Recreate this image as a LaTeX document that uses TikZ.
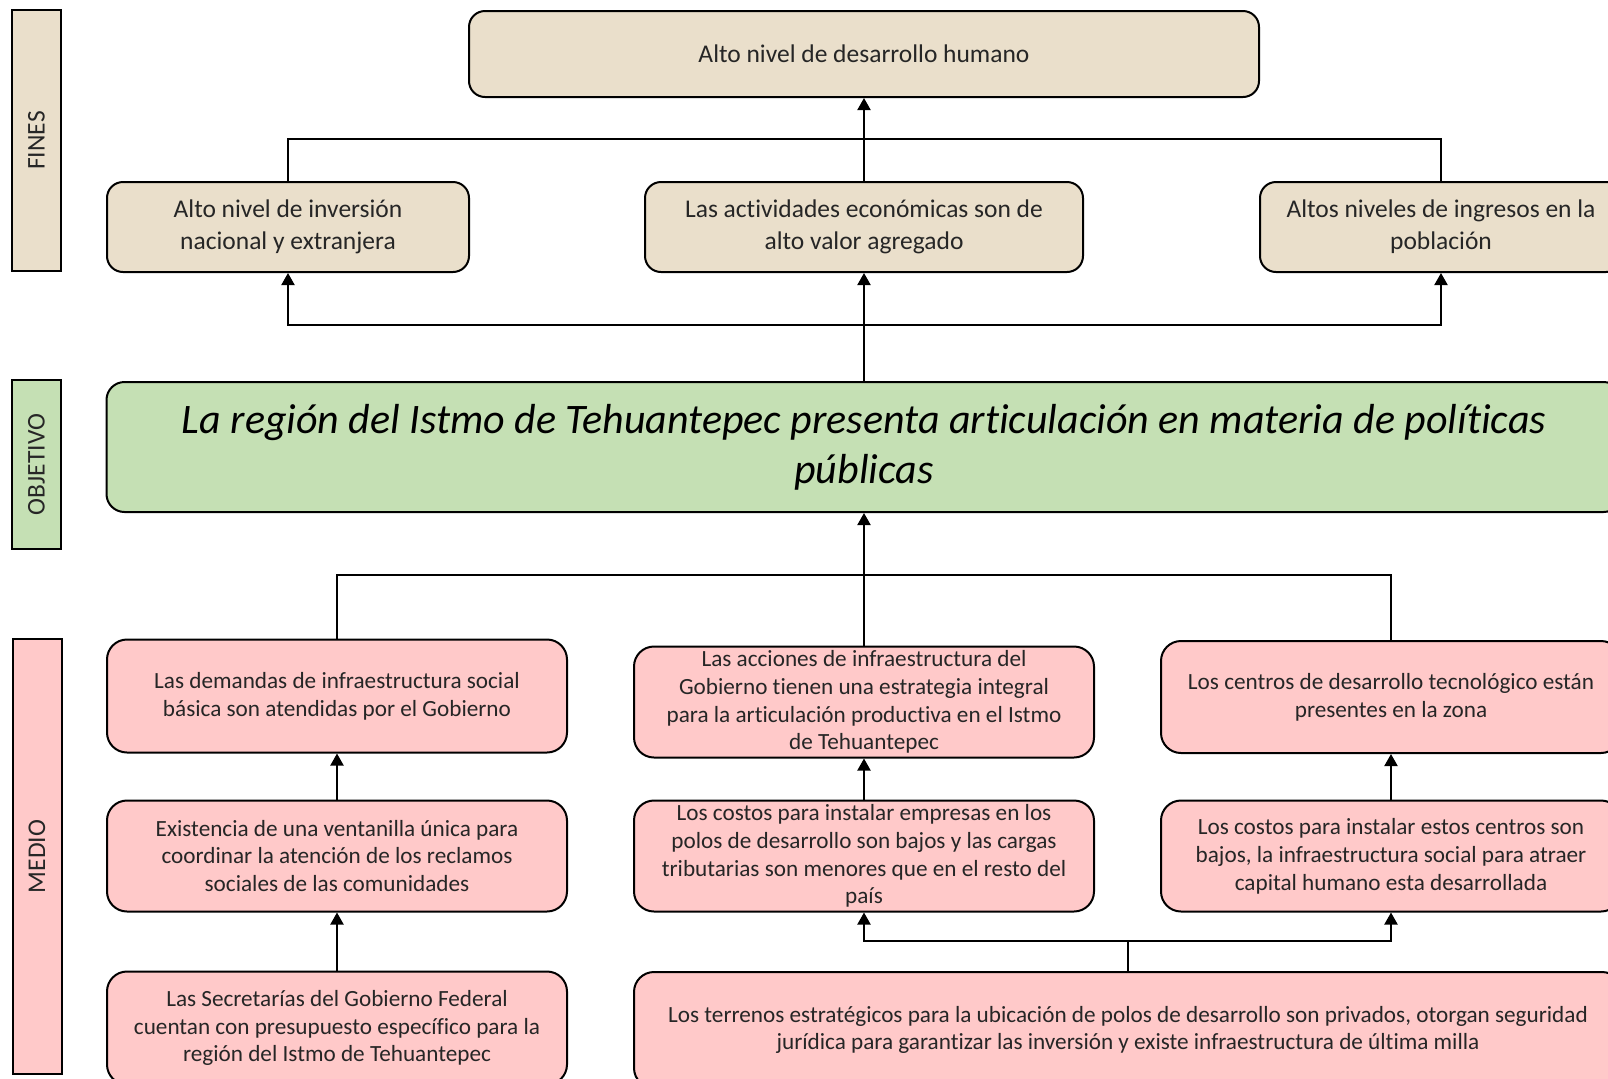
\documentclass[tikz,border=0pt]{standalone}
\usepackage{fontspec}
\setmainfont{Carlito}[Ligatures=NoCommon]
\usepackage{tikz}
\usetikzlibrary{positioning, arrows.meta, shapes}

\definecolor{fincolor}{HTML}{EADFCB}
\definecolor{objcolor}{HTML}{C5E0B4}
\definecolor{medcolor}{HTML}{FFC9C9}

\begin{document}
\begin{tikzpicture}[x=0.5pt, y=-0.5pt, line width=1pt, >={Triangle[width=6.5pt,length=6pt]}]
    % Stili
    \tikzstyle{fin} = [draw, rectangle, rounded corners=8pt, fill=fincolor, align=center, text=black!85, font=\fontsize{12.75}{15.9}\selectfont]
    \tikzstyle{obj} = [draw, rectangle, rounded corners=9pt, fill=objcolor, align=center, font=\fontsize{21}{25.2}\selectfont\itshape]
    \tikzstyle{medio} = [draw, rectangle, rounded corners=10pt, fill=medcolor, align=center, text=black!85, inner ysep=0pt, minimum width=230pt, minimum height=55.5pt, font=\fontsize{11.6}{13.9}\selectfont]
    \tikzstyle{barra} = [draw, rectangle, rotate=90, minimum height=24.5pt, text=black!85, font=\fontsize{12.75}{15.9}\selectfont]
    \tikzstyle{input} = [coordinate]

    \useasboundingbox (0,0) rectangle (1608,1078);
    \clip (0,0) rectangle (1608,1078);

    % Barre laterali
    \node [barra, fill=fincolor, minimum width=130.5pt] (bfines) at (36.5,140.5) {FINES};
    \node [barra, fill=objcolor, minimum width=84.5pt] (bobj) at (36.5,464.5) {OBJETIVO};
    \node [barra, fill=medcolor, minimum width=217.5pt] (bmedio) at (37,856.5) {MEDIO};

    % Fines
    \node [fin, minimum width=395pt, minimum height=43pt] (top) at (864,54) {Alto nivel de desarrollo humano};
    \node [fin, minimum width=181pt, minimum height=45pt] (fleft) at (288,227) {Alto nivel de inversión\\nacional y extranjera};
    \node [fin, minimum width=219pt, minimum height=45pt] (fmid) at (864,227) {Las actividades económicas son de\\alto valor agregado};
    \node [fin, minimum width=181pt, minimum height=45pt] (fright) at (1441,227) {Altos niveles de ingresos en la\\población};

    % Objetivo
    \node [obj, minimum width=757.5pt, minimum height=65pt] (obj) at (864,447) {La región del Istmo de Tehuantepec presenta articulación en materia de políticas\\públicas};

    % Medio
    \node [medio, minimum height=56.5pt] (m1left) at (337,696) {Las demandas de infraestructura social\\básica son atendidas por el Gobierno};
    \node [medio] (m1mid) at (864,702) {Las acciones de infraestructura del\\Gobierno tienen una estrategia integral\\para la articulación productiva en el Istmo\\de Tehuantepec};
    \node [medio, minimum height=56pt] (m1right) at (1391,697) {Los centros de desarrollo tecnológico están\\presentes en la zona};
    \node [medio] (m2left) at (337,856) {Existencia de una ventanilla única para\\coordinar la atención de los reclamos\\sociales de las comunidades};
    \node [medio] (m2mid) at (864,856) {Los costos para instalar empresas en los\\polos de desarrollo son bajos y las cargas\\tributarias son menores que en el resto del\\país};
    \node [medio] (m2right) at (1391,856) {Los costos para instalar estos centros son\\bajos, la infraestructura social para atraer\\capital humano esta desarrollada};
    \node [medio, minimum height=56.5pt] (m3left) at (337,1028) {Las Secretarías del Gobierno Federal\\cuentan con presupuesto específico para la\\región del Istmo de Tehuantepec};
    \node [medio, minimum width=494pt, minimum height=58pt] (wide) at (1128,1030) {Los terrenos estratégicos para la ubicación de polos de desarrollo son privados, otorgan seguridad\\jurídica para garantizar las inversión y existe infraestructura de última milla};

    % Punti di giunzione
    \node [input] (jf) at (864,138.5) {};
    \node [input] (jo) at (864,325) {};
    \node [input] (jm) at (864,575) {};
    \node [input] (jw) at (1128,941) {};

    % Collegamenti
    \draw [->] (fmid.north) -- (top.south);
    \draw (fleft.north) |- (jf) -| (fright.north);
    \draw [->] (obj.north) -- (fmid.south);
    \draw [->] (jo) -| (fleft.south);
    \draw [->] (jo) -| (fright.south);
    \draw [->] (m1mid.north) -- (obj.south);
    \draw (m1left.north) |- (jm) -| (m1right.north);
    \draw [->] (m2left.north) -- (m1left.south);
    \draw [->] (m2mid.north) -- (m1mid.south);
    \draw [->] (m2right.north) -- (m1right.south);
    \draw [->] (m3left.north) -- (m2left.south);
    \draw (wide.north) -- (jw);
    \draw [->] (jw) -| (m2mid.south);
    \draw [->] (jw) -| (m2right.south);

\end{tikzpicture}
\end{document}
